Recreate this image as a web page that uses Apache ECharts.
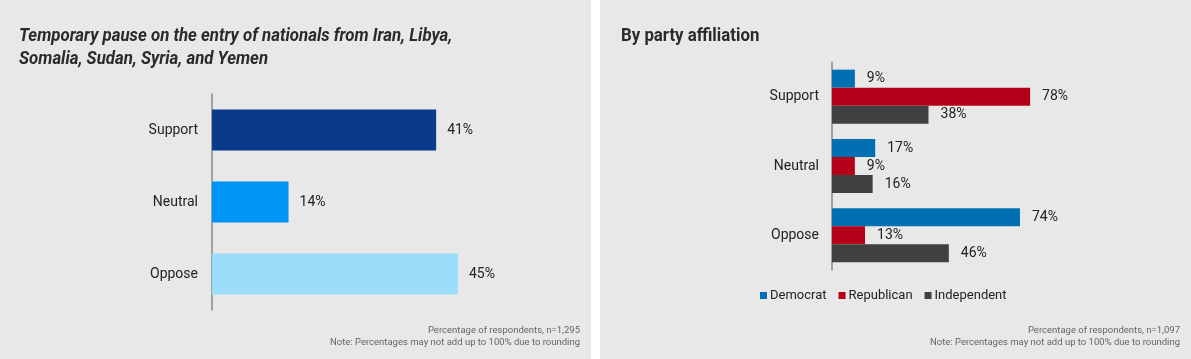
<!DOCTYPE html>
<html><head><meta charset="utf-8">
<script src="https://cdn.jsdelivr.net/npm/echarts@6/dist/echarts.min.js"></script>
<style>html,body{margin:0;padding:0;background:#fff;}#c{width:1191px;height:359px;}</style>
</head><body><div id="c"></div>
<script>
const categories = ['Support', 'Neutral', 'Oppose'];
const overallValues = [41, 14, 45];
const democratValues = [9, 17, 74];
const republicanValues = [78, 9, 13];
const independentValues = [38, 16, 46];
const seriesNames = ['Democrat', 'Republican', 'Independent'];
const leftTitle = 'Temporary pause on the entry of nationals from Iran, Libya,\nSomalia, Sudan, Syria, and Yemen';
const rightTitle = 'By party affiliation';
const leftNote = 'Percentage of respondents, n=1,295\nNote: Percentages may not add up to 100% due to rounding';
const rightNote = 'Percentage of respondents, n=1,097\nNote: Percentages may not add up to 100% due to rounding';

const overallColors = ['#0a3a8a', '#0094f5', '#9cddfb'];
const partyColors = ['#0070b3', '#b5001a', '#404040'];
const FONT = 'Roboto, sans-serif';
const bg = '#e8e8e8';

const chart = echarts.init(document.getElementById('c'), null, {renderer: 'canvas'});
const labelStyle = {show: true, position: 'right', distance: 11, formatter: '{c}%', color: '#222', fontSize: 14, fontFamily: FONT};
const partySeries = [democratValues, republicanValues, independentValues].map((vals, i) => ({
  type: 'bar', name: seriesNames[i], xAxisIndex: 1, yAxisIndex: 1, data: vals,
  barWidth: 18, barGap: '0%', itemStyle: {color: partyColors[i]},
  label: Object.assign({}, labelStyle, {distance: 12, fontSize: 14})
}));

chart.setOption({
  backgroundColor: '#fff',
  animation: false,
  graphic: [
    {type: 'rect', z: -10, shape: {x: 0, y: 0, width: 591, height: 359}, style: {fill: bg}, silent: true},
    {type: 'rect', z: -10, shape: {x: 600, y: 0, width: 591, height: 359}, style: {fill: bg}, silent: true},
    {type: 'text', x: 19, y: 25, scaleX: 0.885, style: {text: leftTitle, font: 'italic bold 19px Roboto', fill: '#2a2a2a', lineHeight: 22.5, verticalAlign: 'top'}},
    {type: 'text', x: 621, y: 25, scaleX: 0.885, style: {text: rightTitle, font: 'bold 19px Roboto', fill: '#2a2a2a', lineHeight: 22.5, verticalAlign: 'top'}},
    {type: 'text', x: 580, y: 324, style: {text: leftNote, font: '9.5px Roboto', fill: '#666', align: 'right', verticalAlign: 'top', lineHeight: 12.5}},
    {type: 'text', x: 1180, y: 324, style: {text: rightNote, font: '9.5px Roboto', fill: '#666', align: 'right', verticalAlign: 'top', lineHeight: 12.5}}
  ],
  legend: {
    data: seriesNames, left: 755, top: 284, icon: 'rect', itemWidth: 7, itemHeight: 7, itemGap: 12,
    textStyle: {fontSize: 13, color: '#222', fontFamily: FONT, padding: [0, 0, 0, -2]}
  },
  grid: [
    {left: 212, top: 94, width: 328, height: 216},
    {left: 832, top: 62, width: 254, height: 208}
  ],
  xAxis: [
    {gridIndex: 0, type: 'value', min: 0, max: 60, show: false},
    {gridIndex: 1, type: 'value', min: 0, max: 100, show: false}
  ],
  yAxis: [
    {gridIndex: 0, type: 'category', data: categories, inverse: true,
     axisLine: {lineStyle: {color: '#888', width: 1.5}}, axisTick: {show: false},
     axisLabel: {color: '#222', fontSize: 14, fontFamily: FONT, margin: 14}},
    {gridIndex: 1, type: 'category', data: categories, inverse: true,
     axisLine: {lineStyle: {color: '#888', width: 1.5}}, axisTick: {show: false},
     axisLabel: {color: '#222', fontSize: 14, fontFamily: FONT, margin: 13}}
  ],
  series: [
    {type: 'bar', xAxisIndex: 0, yAxisIndex: 0, barWidth: 41,
     data: overallValues.map((v, i) => ({value: v, itemStyle: {color: overallColors[i]}})),
     label: labelStyle}
  ].concat(partySeries)
});
</script></body></html>
